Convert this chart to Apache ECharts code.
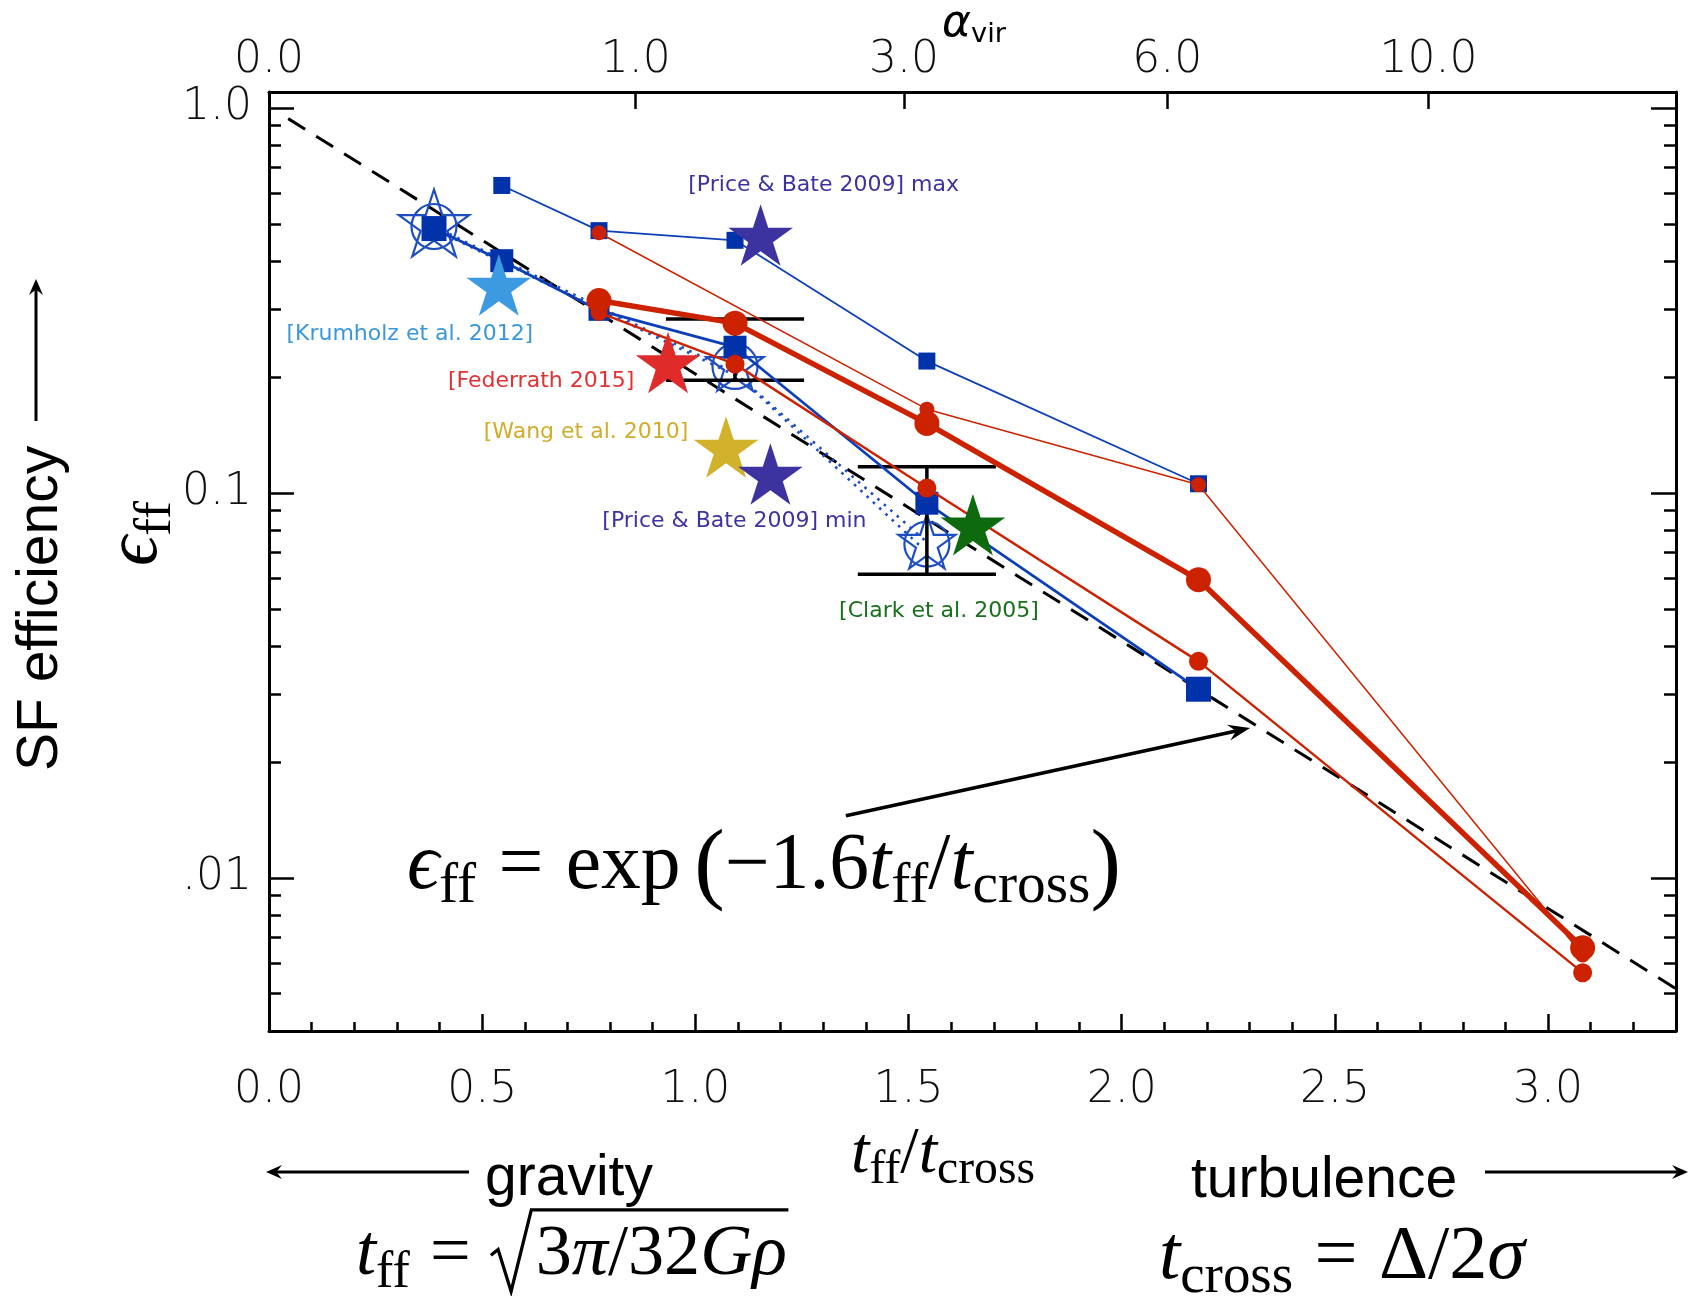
<!DOCTYPE html>
<html><head><meta charset="utf-8">
<script src="https://cdn.jsdelivr.net/npm/echarts@6/dist/echarts.min.js"></script>
<style>html,body{margin:0;padding:0;background:#fff}#c{width:1690px;height:1296px}</style>
</head><body><div id="c"></div>
<script>
// ---------------- data ----------------
const xMajor = [0, 0.5, 1.0, 1.5, 2.0, 2.5, 3.0];
const xMinor = [0.1,0.2,0.3,0.4,0.6,0.7,0.8,0.9,1.1,1.2,1.3,1.4,1.6,1.7,1.8,1.9,2.1,2.2,2.3,2.4,2.6,2.7,2.8,2.9,3.1,3.2];
const yMajor = [0.01, 0.1, 1.0];
const yMajorLabels = ['.01', '0.1', '1.0'];
const yMinor = [0.005,0.006,0.007,0.008,0.009,0.02,0.03,0.04,0.05,0.06,0.07,0.08,0.09,0.2,0.3,0.4,0.5,0.6,0.7,0.8,0.9];
const alphaTicks = [0, 1, 3, 6, 10];
const alphaLabels = ['0.0', '1.0', '3.0', '6.0', '10.0'];
const alphaScale = 0.86; // t_ff/t_cross = 0.86 * sqrt(alpha_vir)

const blueUpperX = [0.546, 0.774, 1.093, 1.543, 2.180];
const blueUpperY = [0.629, 0.480, 0.453, 0.220, 0.1056];
const blueLowerX = [0.387, 0.546, 0.774, 1.093, 1.543, 2.180];
const blueLowerY = [0.486, 0.401, 0.298, 0.239, 0.094, 0.0309];
const blueDotAX = [0.387, 1.093, 1.543];
const blueDotAY = [0.492, 0.205, 0.0745];
const blueDotBX = [0.400, 1.105, 1.530];
const blueDotBY = [0.477, 0.199, 0.0723];
const redThickX = [0.774, 1.093, 1.543, 2.180, 3.081];
const redThickY = [0.316, 0.276, 0.1515, 0.0595, 0.00658];
const redThinX = [0.774, 1.543, 2.180, 3.081];
const redThinY = [0.474, 0.165, 0.105, 0.0063];
const redMidX = [0.774, 1.093, 1.543, 2.180, 3.081];
const redMidY = [0.294, 0.216, 0.103, 0.0365, 0.00567];
const hollowX = [0.387, 1.093, 1.543];
const hollowY = [0.492, 0.213, 0.0736];
const errX = [1.093, 1.543];
const errLow = [0.196, 0.0615];
const errHigh = [0.283, 0.117];
const errXLow = [0.931, 1.381];
const errXHigh = [1.255, 1.705];
const fitX = [0.045, 3.3];
const fitY = [0.938, 0.00515];
const arrowFrom = [1.353, 0.0145];
const arrowTo = [2.301, 0.0245];
const starNames = ['[Price & Bate 2009] max', '[Krumholz et al. 2012]', '[Federrath 2015]', '[Wang et al. 2010]', '[Price & Bate 2009] min', '[Clark et al. 2005]'];
const starX = [1.153, 0.539, 0.936, 1.072, 1.176, 1.651];
const starY = [0.4585, 0.340, 0.2138, 0.129, 0.1098, 0.0811];

// ---------------- styles ----------------
const starColors = ['#3d33a0', '#3c9be0', '#e02b2b', '#d3b22b', '#3d33a0', '#0e6a0e'];
const starLabelColors = ['#3d33a0', '#3a98da', '#e03232', '#d0ad2a', '#3d33a0', '#17701a'];
const starLabelOffsets = [[63,-53],[-89,46],[-127,15],[-140,-18],[-36,44],[-34,83]];
const blueLowerSizes = [25, 23, 21, 23, 23, 25];
const redMidSizes = [17, 19, 19, 19, 19];
const hollowStarSizes = [74, 60, 60];
const hollowCircleSizes = [45, 45, 45];
const BLUE = '#0033aa', BLUE_LINE = '#0c3fb8', HOLLOW = '#1e4ec2', RED = '#cc2200';
const STAR = 'path://M50,0 L61.23,34.55 L97.55,34.55 L68.16,55.9 L79.39,90.45 L50,69.1 L20.61,90.45 L31.84,55.9 L2.45,34.55 L38.77,34.55 Z M50,100';
const SANS_TICK = "'DejaVu Sans', sans-serif";
const SERIF = "'Liberation Serif','DejaVu Serif',serif";
const SANS = "'Liberation Sans','Arial',sans-serif";

const zip = (xs, ys) => xs.map((x, i) => [x, ys[i]]);
const alphaPos = alphaTicks.map(a => alphaScale * Math.sqrt(a));

const chart = echarts.init(document.getElementById('c'));

// ---------------- math text helper ----------------
const ctx = document.createElement('canvas').getContext('2d');
function fontStr(p, m) { return (p.it ? 'italic ' : '') + (m * (p.r || 1)).toFixed(2) + 'px ' + (p.f || SERIF); }
function measure(pieces, m) {
  return pieces.map(p => {
    ctx.font = fontStr(p, m);
    const tw = p.w != null ? p.w * m : ctx.measureText(p.t).width;
    return (p.pre || 0) * m + tw + (p.gap || 0) * m;
  });
}
function mathGroup(pieces, o) {
  let m = o.size || 60;
  if (o.width) { const w0 = measure(pieces, 100).reduce((a, b) => a + b, 0); m = 100 * o.width / w0; }
  const ws = measure(pieces, m);
  const total = ws.reduce((a, b) => a + b, 0);
  let x = o.anchor === 'center' ? -total / 2 : 0;
  const xs = [], children = [];
  pieces.forEach((p, i) => {
    const size = m * (p.r || 1);
    xs.push(x);
    if (p.t && p.t.trim()) {
      children.push({ type: 'text', x: x + (p.pre || 0) * m, y: (p.dy || 0) * m - 0.3 * size,
        style: { text: p.t, font: fontStr(p, m), fill: '#000', align: 'left', verticalAlign: 'middle' } });
    }
    x += ws[i];
  });
  if (o.extra) o.extra(children, xs, ws, m, x);
  return { type: 'group', x: o.x, y: o.y, rotation: o.rotation || 0, silent: true, children };
}
const P = (t, o) => Object.assign({ t }, o || {});
const SUB = { r: 0.72, dy: 0.17 };

function arrowEls(x1, y1, x2, y2, w, headL, headW) {
  const dx = x2 - x1, dy = y2 - y1, L = Math.hypot(dx, dy), ux = dx / L, uy = dy / L, nx = -uy, ny = ux;
  const bx = x2 - ux * headL, by = y2 - uy * headL;
  const mx = x2 - ux * headL * 0.65, my = y2 - uy * headL * 0.65;
  return [
    { type: 'line', silent: true, z: 50, shape: { x1, y1, x2: mx, y2: my }, style: { stroke: '#000', lineWidth: w } },
    { type: 'polygon', silent: true, z: 50, shape: { points: [[x2, y2], [bx + nx * headW, by + ny * headW], [mx, my], [bx - nx * headW, by - ny * headW]] }, style: { fill: '#000' } }
  ];
}

const graphics = [];
graphics.push(mathGroup([
  P('ϵ', { it: 1 }), P('ff', SUB), P('=', { pre: 0.28, gap: 0.28 }), P('exp', { gap: 0.17 }), P('(', { r: 1.15, dy: 0.06 }),
  P('−1.6'), P('t', { it: 1 }), P('ff', SUB), P('/'), P('t', { it: 1 }), P('cross', SUB), P(')', { r: 1.15, dy: 0.06 })
], { x: 407, y: 891, width: 714 }));
graphics.push(mathGroup([P('t', { it: 1 }), P('ff', SUB), P('/'), P('t', { it: 1 }), P('cross', SUB)], { x: 851, y: 1174, width: 184 }));
graphics.push(mathGroup([P('ϵ', { it: 1 }), P('ff', SUB)], { x: 159, y: 566, width: 65, rotation: Math.PI / 2 }));
graphics.push(mathGroup([P('α', { it: 1, f: SANS_TICK }), P('vir', { r: 0.62, dy: 0.12, f: SANS_TICK })], { x: 942, y: 38, width: 64 }));
graphics.push(mathGroup([
  P('t', { it: 1 }), P('ff', SUB), P('=', { pre: 0.28, gap: 0.28 }), P('', { w: 0.62 }),
  P('3'), P('π', { it: 1 }), P('/'), P('32'), P('G', { it: 1 }), P('ρ', { it: 1 })
], { x: 356, y: 1277, width: 431, extra: (ch, xs, ws, m, end) => {
  const rx = xs[3];
  ch.push({ type: 'polyline', shape: { points: [[rx, -0.30 * m], [rx + 0.1 * m, -0.38 * m], [rx + 0.28 * m, 0.2 * m], [rx + 0.56 * m, -0.93 * m], [end + 0.02 * m, -0.93 * m]] },
    style: { stroke: '#000', lineWidth: 0.045 * m, fill: null, lineJoin: 'miter' } });
} }));
graphics.push(mathGroup([
  P('t', { it: 1 }), P('cross', SUB), P('=', { pre: 0.28, gap: 0.28 }), P('Δ'), P('/'), P('2'), P('σ', { it: 1 })
], { x: 1159, y: 1281, width: 366 }));
graphics.push({ type: 'group', x: 58, y: 771, rotation: Math.PI / 2, silent: true, children: [
  { type: 'text', x: 0, y: -0.3 * 57, style: { text: 'SF efficiency', font: '57px ' + SANS, fill: '#000', align: 'left', verticalAlign: 'middle' } }
] });
graphics.push(...arrowEls(36, 421, 36, 279, 3, 16, 7));
graphics.push({ type: 'text', x: 485, y: 1196 - 0.3 * 57, silent: true, style: { text: 'gravity', font: '57px ' + SANS, fill: '#000', align: 'left', verticalAlign: 'middle' } });
graphics.push({ type: 'text', x: 1191, y: 1198 - 0.3 * 57, silent: true, style: { text: 'turbulence', font: '57px ' + SANS, fill: '#000', align: 'left', verticalAlign: 'middle' } });
graphics.push(...arrowEls(469, 1172, 266, 1172, 3, 16, 7));
graphics.push(...arrowEls(1485, 1172, 1688, 1172, 3, 16, 7));

// ---------------- axes ----------------
const tickStyle = { color: '#000', width: 2.5 };
const labelFont = { fontFamily: SANS_TICK, fontSize: 44, fontWeight: 200, color: '#111' };
const noSplit = { show: false };
const xBase = { type: 'value', min: 0, max: 3.3, splitLine: noSplit };
const yBase = { type: 'log', logBase: 10, min: 0.004, max: 1.1, splitLine: noSplit, minorTick: { show: false } };
const yLabelFor = v => { const i = yMajor.findIndex(t => Math.abs(Math.log10(t) - Math.log10(v)) < 1e-6); return i >= 0 ? yMajorLabels[i] : ''; };
const alphaLabelFor = v => { let b = 0; alphaPos.forEach((p, i) => { if (Math.abs(p - v) < Math.abs(alphaPos[b] - v)) b = i; }); return alphaLabels[b]; };

const option = {
  animation: false,
  backgroundColor: '#fff',
  grid: { left: 269, top: 92, right: 14, bottom: 265, containLabel: false },
  xAxis: [
    Object.assign({}, xBase, { position: 'bottom', axisLine: { show: true, onZero: false, lineStyle: { color: '#000', width: 3 } },
      axisTick: { show: true, inside: true, length: 17, lineStyle: tickStyle, customValues: xMajor },
      axisLabel: Object.assign({ customValues: xMajor, formatter: v => v.toFixed(1), margin: 38 }, labelFont) }),
    Object.assign({}, xBase, { position: 'bottom', axisLine: { show: false, onZero: false },
      axisTick: { show: true, inside: true, length: 9, lineStyle: tickStyle, customValues: xMinor }, axisLabel: { show: false } }),
    Object.assign({}, xBase, { position: 'top', axisLine: { show: true, onZero: false, lineStyle: { color: '#000', width: 3 } },
      axisTick: { show: true, inside: true, length: 17, lineStyle: tickStyle, customValues: alphaPos },
      axisLabel: Object.assign({ customValues: alphaPos, formatter: alphaLabelFor, margin: 9 }, labelFont) })
  ],
  yAxis: [
    Object.assign({}, yBase, { position: 'left', axisLine: { show: true, onZero: false, lineStyle: { color: '#000', width: 3 } },
      axisTick: { show: true, inside: true, length: 25, lineStyle: tickStyle, customValues: yMajor },
      axisLabel: Object.assign({ customValues: yMajor, formatter: yLabelFor, margin: 17, padding: [6, 0, 0, 0] }, labelFont) }),
    Object.assign({}, yBase, { position: 'left', axisLine: { show: false, onZero: false },
      axisTick: { show: true, inside: true, length: 12, lineStyle: tickStyle, customValues: yMinor }, axisLabel: { show: false } }),
    Object.assign({}, yBase, { position: 'right', axisLine: { show: true, onZero: false, lineStyle: { color: '#000', width: 3 } },
      axisTick: { show: true, inside: true, length: 25, lineStyle: tickStyle, customValues: yMajor }, axisLabel: { show: false } }),
    Object.assign({}, yBase, { position: 'right', axisLine: { show: false, onZero: false },
      axisTick: { show: true, inside: true, length: 12, lineStyle: tickStyle, customValues: yMinor }, axisLabel: { show: false } })
  ],
  series: [
    { type: 'line', data: zip(fitX, fitY), symbol: 'none', z: 2, silent: true,
      lineStyle: { color: '#000', width: 3, type: [20, 13] } },
    { type: 'line', data: zip(blueDotAX, blueDotAY), symbol: 'none', z: 3, silent: true, lineStyle: { color: HOLLOW, width: 2.6, type: [2.6, 6] } },
    { type: 'line', data: zip(blueDotBX, blueDotBY), symbol: 'none', z: 3, silent: true, lineStyle: { color: HOLLOW, width: 2.6, type: [2.6, 6] } },
    { type: 'scatter', data: zip(hollowX, hollowY), symbol: 'circle', z: 4, silent: true,
      symbolSize: (v, p) => hollowCircleSizes[p.dataIndex],
      itemStyle: { color: 'rgba(0,0,0,0)', borderColor: HOLLOW, borderWidth: 2.2, opacity: 1 } },
    { type: 'scatter', data: zip(hollowX, hollowY), symbol: STAR, symbolKeepAspect: true, z: 4, silent: true,
      symbolSize: (v, p) => hollowStarSizes[p.dataIndex],
      itemStyle: { color: 'rgba(0,0,0,0)', borderColor: HOLLOW, borderWidth: 2.2, opacity: 1 } },
    { type: 'custom', z: 5, silent: true,
      data: errX.map((x, i) => [x, errLow[i], errHigh[i], errXLow[i], errXHigh[i]]),
      encode: { x: 0, y: [1, 2] },
      renderItem: (params, api) => {
        const x = api.value(0), lo = api.value(1), hi = api.value(2), xl = api.value(3), xh = api.value(4);
        const a = api.coord([x, lo]), b = api.coord([x, hi]);
        const l1 = api.coord([xl, hi]), r1 = api.coord([xh, hi]), l2 = api.coord([xl, lo]), r2 = api.coord([xh, lo]);
        const st = { stroke: '#000', lineWidth: 3.5 };
        return { type: 'group', children: [
          { type: 'line', shape: { x1: a[0], y1: a[1], x2: b[0], y2: b[1] }, style: st },
          { type: 'line', shape: { x1: l1[0], y1: l1[1], x2: r1[0], y2: r1[1] }, style: st },
          { type: 'line', shape: { x1: l2[0], y1: l2[1], x2: r2[0], y2: r2[1] }, style: st }
        ] };
      } },
    { type: 'line', data: zip(blueUpperX, blueUpperY), symbol: 'rect', symbolSize: 17, z: 6, silent: true,
      lineStyle: { color: BLUE_LINE, width: 1.8 }, itemStyle: { color: BLUE } },
    { type: 'line', data: zip(blueLowerX, blueLowerY), symbol: 'rect', z: 6, silent: true,
      symbolSize: (v, p) => blueLowerSizes[p.dataIndex],
      lineStyle: { color: BLUE_LINE, width: 2.8 }, itemStyle: { color: BLUE } },
    { type: 'line', data: zip(redMidX, redMidY), symbol: 'circle', z: 7, silent: true,
      symbolSize: (v, p) => redMidSizes[p.dataIndex],
      lineStyle: { color: RED, width: 2.4 }, itemStyle: { color: RED } },
    { type: 'line', data: zip(redThinX, redThinY), symbol: 'circle', symbolSize: 15, z: 7, silent: true,
      lineStyle: { color: RED, width: 1.5 }, itemStyle: { color: RED } },
    { type: 'line', data: zip(redThickX, redThickY), symbol: 'circle', symbolSize: 25, z: 8, silent: true,
      lineStyle: { color: RED, width: 5.5 }, itemStyle: { color: RED } },
    { type: 'scatter', z: 10, silent: true, symbol: STAR, symbolKeepAspect: true, symbolSize: 68,
      data: starX.map((x, i) => ({
        value: [x, starY[i]],
        itemStyle: { color: starColors[i], opacity: 1 },
        label: { show: true, position: 'inside', formatter: starNames[i], color: starLabelColors[i], opacity: 1,
          offset: starLabelOffsets[i], fontFamily: SANS_TICK, fontSize: 22, textBorderWidth: 0, align: 'center', verticalAlign: 'middle' }
      })) }
  ]
};
chart.setOption(option);
// arrow pointing at the fit line, placed in data coordinates
const pFrom = chart.convertToPixel({ gridIndex: 0 }, arrowFrom);
const pTo = chart.convertToPixel({ gridIndex: 0 }, arrowTo);
graphics.push(...arrowEls(pFrom[0], pFrom[1], pTo[0], pTo[1], 3.5, 22, 8));
chart.setOption({ graphic: graphics });
</script></body></html>
